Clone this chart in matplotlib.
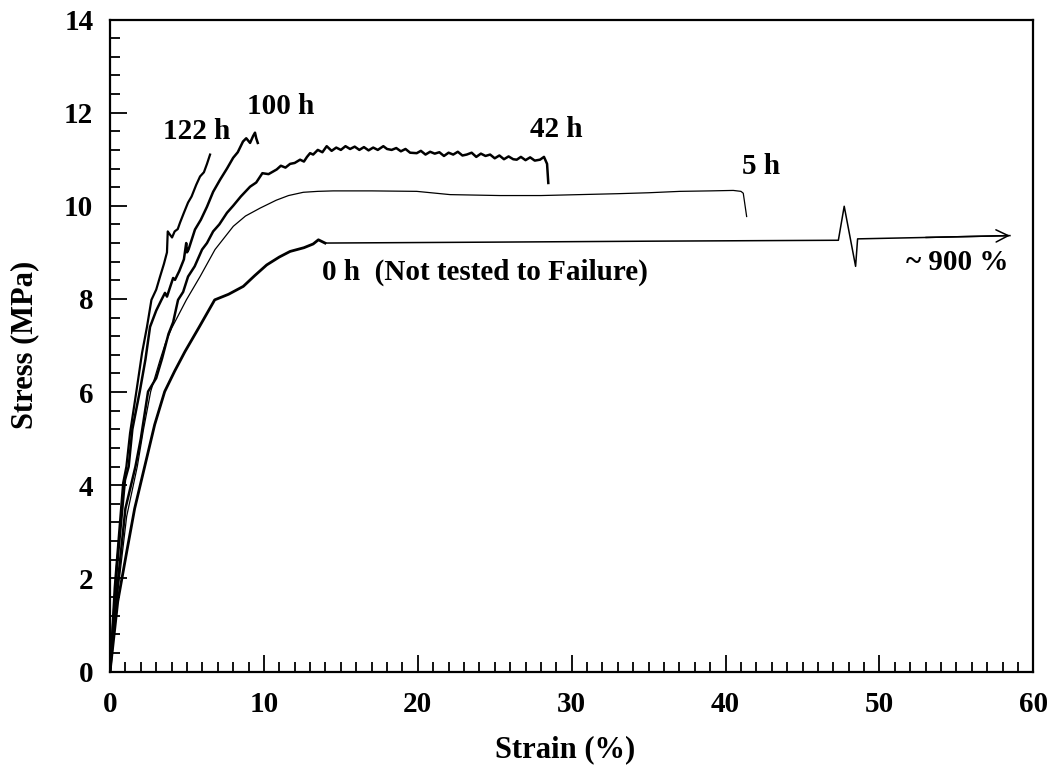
import matplotlib
matplotlib.use("Agg")
import matplotlib.pyplot as plt
from matplotlib.ticker import MultipleLocator

plt.rcParams['font.family'] = ['Liberation Serif', 'DejaVu Serif']
plt.rcParams['font.weight'] = 'bold'

# ---- data (strain %, stress MPa) ----
h122_x = [0, 0.3, 0.85, 1.06, 1.3, 1.71, 2.08, 2.4, 2.69, 3.0, 3.25, 3.5, 3.7, 3.75, 3.85, 4.03,
          4.2, 4.4, 4.55, 4.8, 5.07, 5.3, 5.6, 5.85, 6.1, 6.3, 6.5]
h122_y = [0, 1.8, 4.05, 4.4, 5.12, 6.01, 6.84, 7.4, 7.98, 8.2, 8.48, 8.75, 9.0, 9.45, 9.4, 9.32,
          9.45, 9.5, 9.64, 9.85, 10.07, 10.2, 10.45, 10.63, 10.72, 10.9, 11.1]

h100_x = [0, 0.45, 0.97, 1.21, 1.45, 1.93, 2.3, 2.6, 3.0, 3.34, 3.57, 3.7, 4.1, 4.22, 4.5, 4.8,
          4.95, 5.0, 5.1, 5.52, 5.9, 6.3, 6.7, 7.15, 7.6, 8.0, 8.3, 8.64, 8.85, 9.1, 9.3, 9.42, 9.5, 9.6]
h100_y = [0, 2.25, 4.11, 4.4, 5.2, 6.01, 6.7, 7.4, 7.75, 7.98, 8.13, 8.05, 8.45, 8.41, 8.6, 8.85,
          9.2, 9.0, 9.06, 9.49, 9.7, 9.98, 10.3, 10.56, 10.8, 11.03, 11.15, 11.38, 11.45, 11.35, 11.5,
          11.57, 11.45, 11.35]

h42_x = [0, 0.5, 1.0, 1.65, 2.0, 2.47, 3.0, 3.38, 3.8, 4.1, 4.42, 4.75, 5.07, 5.5, 5.98, 6.3,
         6.7, 7.1, 7.6, 8.0, 8.5, 9.1, 9.5, 9.9, 10.3, 10.83, 11.1, 11.4, 11.7, 12.0, 12.35, 12.6,
         12.8, 13.0, 13.2, 13.5, 13.8, 14.08, 14.4, 14.7, 15.0, 15.3, 15.6, 15.9, 16.2, 16.5, 16.8,
         17.1, 17.4, 17.76, 18.0, 18.3, 18.6, 18.9, 19.2, 19.5, 19.93, 20.2, 20.5, 20.8, 21.1, 21.4,
         21.7, 22.0, 22.3, 22.6, 22.9, 23.18, 23.5, 23.8, 24.1, 24.4, 24.7, 25.0, 25.3, 25.6, 25.9,
         26.2, 26.43, 26.7, 27.0, 27.3, 27.6, 27.94, 28.2, 28.4, 28.48]
h42_y = [0, 1.9, 3.5, 4.4, 5.0, 6.01, 6.3, 6.72, 7.25, 7.5, 7.98, 8.15, 8.48, 8.7, 9.06, 9.2,
         9.45, 9.6, 9.85, 10.0, 10.2, 10.41, 10.5, 10.7, 10.68, 10.78, 10.86, 10.82, 10.9, 10.92,
         10.99, 10.95, 11.05, 11.13, 11.1, 11.2, 11.15, 11.28, 11.18, 11.25, 11.2, 11.28, 11.22,
         11.27, 11.2, 11.26, 11.19, 11.25, 11.2, 11.28, 11.22, 11.2, 11.24, 11.17, 11.22, 11.14,
         11.13, 11.18, 11.1, 11.16, 11.12, 11.15, 11.07, 11.14, 11.1, 11.16, 11.08, 11.1, 11.14,
         11.05, 11.12, 11.07, 11.1, 11.02, 11.08, 11.0, 11.06, 11.0, 10.99, 11.05, 10.98, 11.04,
         10.97, 10.99, 11.05, 10.9, 10.49]

h5_x = [0, 0.5, 1.08, 1.77, 2.17, 2.64, 3.25, 3.6, 4.0, 4.96, 5.85, 6.82, 8.01, 8.8, 9.75, 10.8,
        11.6, 12.56, 13.5, 14.5, 17, 19.93, 22.1, 25.34, 28, 30.5, 33, 35, 37.04, 39, 40.5, 41.0,
        41.15, 41.37]
h5_y = [0, 1.7, 3.33, 4.4, 5.19, 6.01, 6.69, 7.05, 7.37, 7.98, 8.48, 9.06, 9.56, 9.78, 9.95,
        10.12, 10.22, 10.29, 10.31, 10.32, 10.32, 10.31, 10.24, 10.22, 10.22, 10.24, 10.26, 10.28,
        10.31, 10.32, 10.33, 10.31, 10.27, 9.77]

h0_x = [0, 0.5, 1.1, 1.6, 2.25, 2.9, 3.55, 4.2, 4.87, 5.8, 6.8, 7.7, 8.66, 9.4, 10.18, 11.0,
        11.7, 12.6, 13.2, 13.54, 13.97]
h0_y = [0, 1.5, 2.6, 3.5, 4.4, 5.3, 6.01, 6.45, 6.87, 7.4, 7.98, 8.1, 8.27, 8.5, 8.73, 8.9,
        9.02, 9.1, 9.18, 9.27, 9.2]

h0_tail_x = [13.97, 25, 35, 47.33, 47.71, 48.45, 48.58, 53, 58.48]
h0_tail_y = [9.2, 9.22, 9.24, 9.26, 9.99, 8.7, 9.29, 9.32, 9.36]

labels = ["122 h", "100 h", "42 h", "5 h", "0 h  (Not tested to Failure)", "~ 900 %"]
label_x = [3.46, 8.88, 27.3, 41.05, 13.75, 51.7]
label_y = [11.6, 12.13, 11.63, 10.84, 8.58, 8.78]

fig = plt.figure(figsize=(10.48, 7.74), dpi=100)
ax = fig.add_axes([0.105, 0.1324, 0.881, 0.8424])

ax.plot(h122_x, h122_y, color='black', lw=1.6)
ax.plot(h100_x, h100_y, color='black', lw=1.8)
ax.plot(h42_x, h42_y, color='black', lw=1.8)
ax.plot(h5_x, h5_y, color='black', lw=0.9)
ax.plot(h0_x, h0_y, color='black', lw=2.0)
ax.plot(h0_tail_x, h0_tail_y, color='black', lw=1.1)
ax.annotate('', xy=(h0_tail_x[-1], h0_tail_y[-1]), xytext=(h0_tail_x[-2], h0_tail_y[-2]),
            arrowprops=dict(arrowstyle='->', lw=1.1, color='black', mutation_scale=22,
                            shrinkA=0, shrinkB=0))

for t, x, y in zip(labels, label_x, label_y):
    ax.text(x, y, t, fontsize=21, fontweight='bold', ha='left', va='center')

ax.set_xlim(0, 60)
ax.set_ylim(0, 14)
ax.xaxis.set_major_locator(MultipleLocator(10))
ax.xaxis.set_minor_locator(MultipleLocator(1))
ax.yaxis.set_major_locator(MultipleLocator(2))
ax.yaxis.set_minor_locator(MultipleLocator(0.4))
ax.tick_params(which='both', direction='in', top=False, right=False, width=1.3)
ax.tick_params(which='major', length=12)
ax.tick_params(which='minor', length=7)
ax.tick_params(axis='x', which='major', pad=14, labelsize=21)
ax.tick_params(axis='y', which='major', pad=12, labelsize=21)
for lab in ax.get_xticklabels() + ax.get_yticklabels():
    lab.set_fontweight('bold')
for s in ax.spines.values():
    s.set_linewidth(1.6)

fig.text(25 / 1048, 1 - 345 / 774, "Stress (MPa)", rotation=90, ha='center', va='center',
         fontsize=22, fontweight='bold')
fig.text(565 / 1048, 1 - 750 / 774, "Strain (%)", ha='center', va='center',
         fontsize=22, fontweight='bold')

fig.savefig("out.png", dpi=100)
